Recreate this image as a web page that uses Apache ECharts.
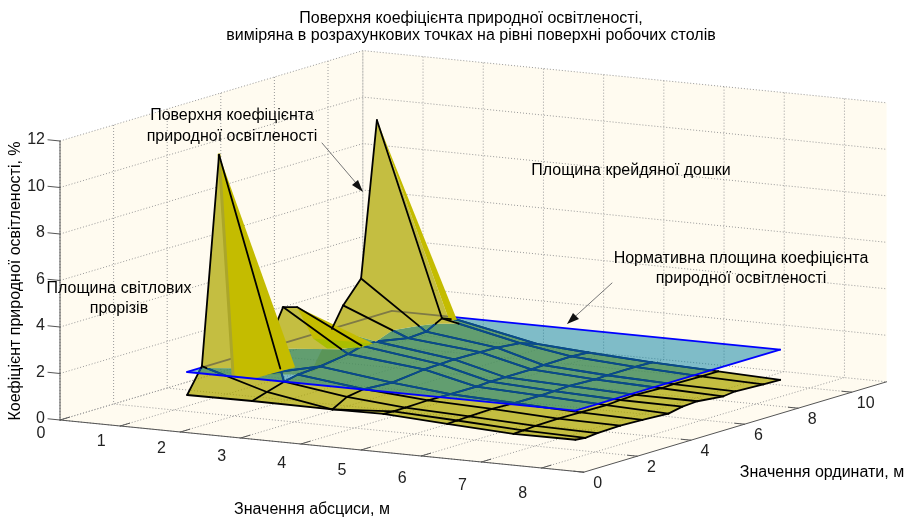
<!DOCTYPE html>
<html><head><meta charset="utf-8">
<style>html,body{margin:0;padding:0;background:#fff}#c{width:908px;height:518px}</style>
<script src="https://cdn.jsdelivr.net/npm/echarts@6/dist/echarts.min.js"></script>
</head><body><div id="c"></div>
<script>
// ---- data (metres / percent) ----
const xTicks=[0,1,2,3,4,5,6,7,8];
const yTicks=[0,2,4,6,8,10];
const zTicks=[0,2,4,6,8,10,12];
const xMax=8.7, yMax=11.3, zMax=12;
const xNodes=[1.52,2.60,3.93,4.78,5.84,6.94,7.97];
const yNear=[1.33,1.88,2.52,3.04,3.86,4.91,5.43,5.95,7.15,7.82,8.41,8.97];
const yMid =[1.33,1.33,1.88,2.52,3.56,4.76,5.35,5.88,6.85,7.48,8.34,8.97];
const yFar =[1.33,1.70,2.15,3.00,3.83,4.80,5.32,5.88,6.85,7.30,8.34,8.97];
const z0=[1.01,2.06,10.93,1.30,1.00,3.56,3.38,0.40,2.86,3.79,10.40,1.60];
const z1=[1.03,1.23,1.45,1.58,1.65,1.82,1.99,2.00,1.73,1.78,2.15,1.90];
const z2=[1.01,1.01,1.36,1.48,1.40,1.55,1.58,1.60,1.58,1.55,1.45,1.20];
const z3=[1.04,1.02,1.03,1.05,1.03,1.02,1.05,1.05,1.05,1.08,1.10,1.05];
const z4=[0.88,0.90,0.92,0.95,0.92,0.90,0.92,0.95,0.90,0.92,0.92,0.90];
const z5=[0.74,0.76,0.80,0.82,0.80,0.78,0.82,0.85,0.80,0.82,0.80,0.80];
const z6=[0.75,0.70,0.75,0.78,0.74,0.68,0.80,0.84,0.72,0.78,0.72,0.70];
const normLevel=2;
// rear faces of the three peaks, [x,y,z]
const rearPeak1=[[1.52,2.52,10.93],[1.54,3.0,1.29],[1.90,3.0,1.25],[2.57,3.0,1.90]];
const rearPeak3=[[1.52,5.43,3.38],[2.60,5.84,1.95],[2.60,5.35,1.95],[1.80,5.40,2.11]];
const rearPeak3Low=[[1.80,5.40,2.11],[2.10,5.25,1.81],[2.60,5.35,1.95],[2.60,5.84,1.95]];
const rearPeak2a=[[1.52,8.41,10.40],[2.60,8.68,1.98],[2.60,8.41,2.15]];
const rearPeak2b=[[1.52,8.41,10.40],[2.60,8.97,1.90],[2.60,8.68,1.98]];
const titleLines=['Поверхня коефіцієнта природної освітленості,','виміряна в розрахункових точках на рівні поверхні робочих столів'];
const xName='Значення абсциси, м', yName='Значення ординати, м', zName='Коефіцієнт природної освітленості, %';

// ---- view ----
const FONT='"Liberation Sans",Arial,sans-serif';
const OLIVE='rgba(174,167,0,0.73)', BRIGHT='rgb(196,188,0)', WALL='#FFFBF0';
const project=(p)=>[60+60.2*p[0]+26.8*p[1], 420+6*p[0]-8.0*p[1]-23.25*p[2]];
const zRows=[z0,z1,z2,z3,z4,z5,z6];
const yCol=[yNear,yNear,yMid,yFar,yFar,yFar,yFar];
const node=(i,j)=>[xNodes[i],yCol[i][j],zRows[i][j]];
const prims=[];
const poly=(pts,fill)=>prims.push({t:'poly',pts:pts.map(project),fill});
const line=(pts,stroke,w,dash)=>prims.push({t:'line',pts:pts.map(project),stroke,w,dash});
const line2=(pts,stroke,w)=>prims.push({t:'line',pts,stroke,w});
const text=(s,x,y,o)=>prims.push(Object.assign({t:'text',s,x,y},o||{}));

function clipPoly(pts,above){
  const out=[], ins=p=>above?p[2]>=normLevel:p[2]<=normLevel;
  pts.forEach((a,k)=>{const b=pts[(k+1)%pts.length];
    if(ins(a))out.push(a);
    if(ins(a)!==ins(b)){const t=(normLevel-a[2])/(b[2]-a[2]);out.push([a[0]+t*(b[0]-a[0]),a[1]+t*(b[1]-a[1]),normLevel]);}
  });return out;
}
function splitSeg(a,b){
  if((a[2]-normLevel)*(b[2]-normLevel)>=0){return (a[2]+b[2])/2>=normLevel?{up:[a,b]}:{down:[a,b]};}
  const t=(normLevel-a[2])/(b[2]-a[2]),m=[a[0]+t*(b[0]-a[0]),a[1]+t*(b[1]-a[1]),normLevel];
  return a[2]>b[2]?{up:[a,m],down:[m,b]}:{up:[m,b],down:[a,m]};
}
// ---- walls, grid, axes ----
const A=[0,0,0],B=[xMax,0,0],C=[xMax,yMax,0];
poly([A,[0,0,zMax],[0,yMax,zMax],[xMax,yMax,zMax],C,B],WALL);
const G='#9a9a9a', DOT=[1,2];
xTicks.forEach(t=>{line([[t,0,0],[t,yMax,0],[t,yMax,zMax]],G,1,DOT);});
yTicks.forEach(t=>{line([[0,t,zMax],[0,t,0],[xMax,t,0]],G,1,DOT);});
zTicks.forEach(t=>{line([[0,0,t],[0,yMax,t],[xMax,yMax,t]],G,1,DOT);});
line([[0,yMax,0],[0,yMax,zMax]],G,1,DOT);
const AX='#555';
line([A,B],AX,1);line([B,C],AX,1);line([A,[0,0,zMax]],AX,1);
xTicks.forEach(t=>line([[t,0,0],[t,0.35,0]],AX,1));
yTicks.forEach(t=>line([[xMax,t,0],[xMax-0.16,t,0]],AX,1));
zTicks.forEach(t=>line([[0,0,t],[-0.2,0,t]],AX,1));

// ---- surface ----
const nI=xNodes.length,nJ=z0.length;
const skipQuad=(i,j)=>i===0&&(j===2||j===6||j===10);
const skipY=(i,j)=>i===0&&(j===2||j===3||j===6||j===10);
const skipX=(i,j)=>i===0&&(j===3||j===7||j===11);
const quads=[];
for(let i=0;i<nI-1;i++)for(let j=0;j<nJ-1;j++){if(!skipQuad(i,j))quads.push([node(i,j),node(i+1,j),node(i+1,j+1),node(i,j+1)]);}
const low=[],high=[],hiddenHigh=[];
function addSeg(a,b,i,j,along){
  const r=splitSeg(a,b);
  const behind=i===0&&along==='y'&&(j===4||j===7);
  if(r.down&&!behind)low.push(r.down);
  if(r.up){(behind&&j===4?hiddenHigh:high).push(r.up);}
}
for(let i=0;i<nI;i++)for(let j=0;j<nJ;j++){
  if(i<nI-1&&!skipX(i,j))addSeg(node(i,j),node(i+1,j),i,j,'x');
  if(j<nJ-1&&!skipY(i,j))addSeg(node(i,j),node(i,j+1),i,j,'y');
}
quads.forEach(q=>{const p=clipPoly(q,false);if(p.length>2)poly(p,OLIVE);});
low.forEach(s=>line(s,'#000',1.8));
// normative plane
const pl=[[xNodes[0],yNear[0],normLevel],[xNodes[6],yNear[0],normLevel],[xNodes[6],yNear[11],normLevel],[xNodes[0],yNear[11],normLevel]];
poly(pl,'rgba(0,125,160,0.5)');
// under-plane mesh seen through the plane
const P2=pl.map(project);
function clipToPlane(a,b){
  let t0=0,t1=1;const d=[b[0]-a[0],b[1]-a[1]];
  for(let k=0;k<4;k++){const u=P2[k],v=P2[(k+1)%4],n=[v[1]-u[1],-(v[0]-u[0])];
    const sgn=((P2[(k+2)%4][0]-u[0])*n[0]+(P2[(k+2)%4][1]-u[1])*n[1])>0?1:-1;
    const f=((a[0]-u[0])*n[0]+(a[1]-u[1])*n[1])*sgn, g=(d[0]*n[0]+d[1]*n[1])*sgn;
    if(g===0){if(f<0)return null;continue;}
    const t=-f/g; if(g>0)t0=Math.max(t0,t); else t1=Math.min(t1,t);
  }
  if(t0>=t1)return null;
  return [[a[0]+t0*d[0],a[1]+t0*d[1]],[a[0]+t1*d[0],a[1]+t1*d[1]]];
}
low.forEach(s=>{const r=clipToPlane(project(s[0]),project(s[1]));if(r)line2(r,'#0a4a8e',1.8);});
// parts above the plane hide it
const upper=quads.map(q=>clipPoly(q,true)).filter(p=>p.length>2);
upper.forEach(p=>poly(p,WALL));
line([pl[3],pl[0]],'#0000ff',1.8);line([pl[2],pl[3]],'#0000ff',1.8);
upper.forEach(p=>poly(p,OLIVE));
hiddenHigh.forEach(s=>line(s,'#000',1.8));
poly(rearPeak2a,OLIVE);poly(rearPeak2b,BRIGHT);
poly(rearPeak3,BRIGHT);poly(rearPeak3Low,'rgb(170,190,0)');
poly(rearPeak1,BRIGHT);
line([rearPeak1[0],rearPeak1[1]],'#aba62a',3);
line([pl[0],pl[1]],'#0000ff',1.8);line([pl[1],pl[2]],'#0000ff',1.8);
high.forEach(s=>line(s,'#000',1.8));

// ---- text ----
const TC='#000';
titleLines.forEach((s,k)=>text(s,471,19+k*17,{size:16}));
zTicks.forEach(t=>{const q=project([0,0,t]);text(String(t),q[0]-15,q[1]-1,{size:16,align:'right',color:'#222'});});
xTicks.forEach(t=>{const q=project([t,0,0]);text(String(t),q[0]-19,q[1]+14+1.4*t,{size:16,color:'#222'});});
yTicks.forEach(t=>{const q=project([xMax,t,0]);text(String(t),q[0]+14,q[1]+11,{size:16,color:'#222'});});
text(xName,312,510,{size:16});
text(yName,822,473,{size:16});
text(zName,16,281,{size:16,rot:Math.PI/2});
text('Поверхня коефіцієнта',232,116,{size:16});
text('природної освітленості',232,137,{size:16});
text('Площина світлових',119,289,{size:16});
text('прорізів',119,309,{size:16});
text('Площина крейдяної дошки',631,171,{size:16});
text('Нормативна площина коефіцієнта',741,259,{size:16});
text('природної освітленості',741,279,{size:16});
// leader arrows
line2([[322,143],[362,190]],'#777',1);
prims.push({t:'poly',pts:[[363,192],[352,185],[358,180]],fill:'#111'});
line2([[612,283],[568,323]],'#777',1);
prims.push({t:'poly',pts:[[567,324],[573,313],[579,319]],fill:'#111'});

const chart=echarts.init(document.getElementById('c'),null,{renderer:'canvas'});
chart.setOption({
  animation:false,backgroundColor:'#fff',
  grid:{left:0,right:0,top:0,bottom:0},
  xAxis:{type:'value',min:0,max:908,show:false},
  yAxis:{type:'value',min:0,max:518,inverse:true,show:false},
  series:[{type:'custom',silent:true,clip:false,progressive:0,
    data:prims.map((_,i)=>[i]),
    renderItem(params,api){
      const p=prims[params.dataIndex];
      if(p.t==='poly')return{type:'polygon',shape:{points:p.pts.map(q=>api.coord(q))},style:{fill:p.fill,stroke:null}};
      if(p.t==='line')return{type:'polyline',shape:{points:p.pts.map(q=>api.coord(q))},style:{fill:null,stroke:p.stroke,lineWidth:p.w,lineDash:p.dash||null,lineCap:p.dash?'butt':'round',lineJoin:'round'}};
      const c=api.coord([p.x,p.y]);
      return{type:'text',x:c[0],y:c[1],rotation:p.rot||0,style:{text:p.s,x:0,y:0,align:p.align||'center',verticalAlign:'middle',fill:p.color||TC,font:(p.size||15)+'px '+FONT}};
    }}]
});
</script></body></html>
